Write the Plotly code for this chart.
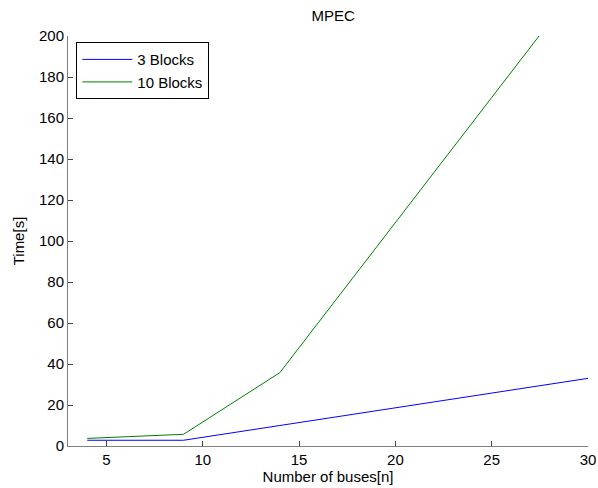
import plotly.graph_objects as go

buses = [4, 9, 14, 30]
blocks3 = [2.8, 2.8, 10.0, 33.0]
blocks10 = [3.7, 5.7, 35.8, 231.0]
xticks = [5, 10, 15, 20, 25, 30]
yticks = list(range(0, 201, 20))

fig = go.Figure()
fig.add_trace(go.Scatter(x=buses, y=blocks3, mode="lines", name="3 Blocks",
                         line=dict(color="#0000ff", width=1)))
fig.add_trace(go.Scatter(x=buses, y=blocks10, mode="lines", name="10 Blocks",
                         line=dict(color="#008000", width=1)))

font = dict(family="Liberation Sans, Arial, sans-serif", size=15, color="black")
fig.update_layout(
    width=598, height=488,
    margin=dict(l=68, r=10, t=36, b=42, autoexpand=False),
    paper_bgcolor="white", plot_bgcolor="white",
    font=font,
    title=dict(text="MPEC", x=0.557, xanchor="center", y=0.967, yanchor="middle",
               font=dict(size=15)),
    showlegend=True,
    legend=dict(x=0.016, y=0.985, xanchor="left", yanchor="top",
                bgcolor="white", bordercolor="black", borderwidth=1,
                font=dict(size=15), tracegroupgap=0, itemwidth=50),
)
fig.update_xaxes(range=[3, 30], tickvals=xticks, ticks="inside", ticklen=5,
                 tickcolor="#444", showline=True, linecolor="#808080", linewidth=1,
                 showgrid=False, zeroline=False, mirror=False, automargin=False,
                 tickfont=dict(size=15),
                 title=dict(text="Number of buses[n]", standoff=0, font=dict(size=15)))
fig.update_yaxes(range=[0, 200], tickvals=yticks, ticks="inside", ticklen=5,
                 tickcolor="#444", showline=True, linecolor="#808080", linewidth=1,
                 showgrid=False, zeroline=False, mirror=False, automargin=False,
                 tickfont=dict(size=15),
                 title=dict(text="Time[s]", standoff=10, font=dict(size=15)))
fig.write_html("out.html")
